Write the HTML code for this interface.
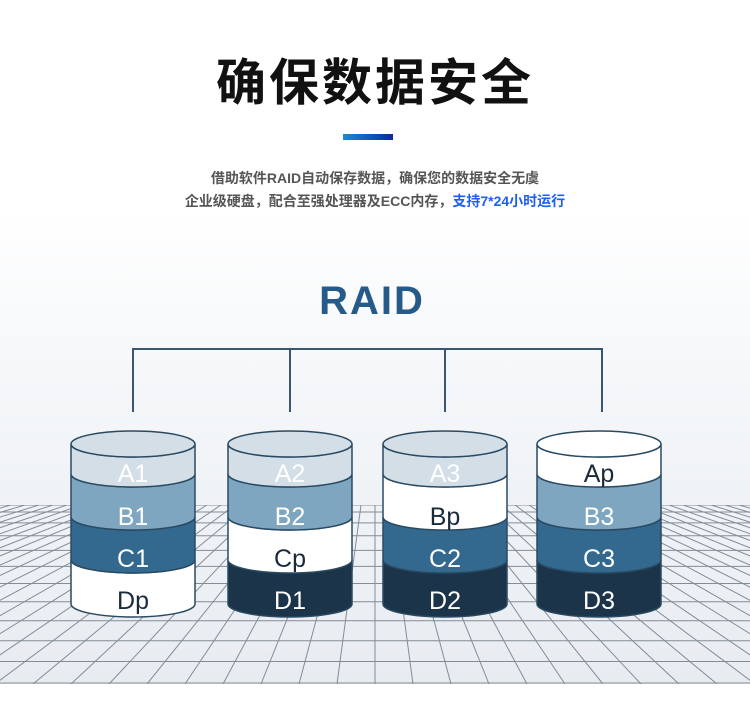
<!DOCTYPE html>
<html><head><meta charset="utf-8"><style>
body{margin:0;width:750px;height:718px;overflow:hidden;background:#fff;font-family:"Liberation Sans","Noto Sans CJK SC",sans-serif}
</style></head><body>
<svg width="750" height="718" viewBox="0 0 750 718" xmlns="http://www.w3.org/2000/svg">
<defs>
<linearGradient id="bg" x1="0" y1="0" x2="0" y2="1">
<stop offset="0" stop-color="#ffffff"/><stop offset="0.3" stop-color="#f6f8fa"/><stop offset="0.7" stop-color="#eef1f5"/><stop offset="1" stop-color="#e8ecf1"/>
</linearGradient>
<linearGradient id="bar" x1="0" x2="1"><stop offset="0" stop-color="#1a8ad6"/><stop offset="1" stop-color="#0a2a9e"/></linearGradient>
<clipPath id="gc"><rect x="0" y="505" width="750" height="179"/></clipPath>
</defs>
<rect x="0" y="210" width="750" height="474" fill="url(#bg)"/>
<g clip-path="url(#gc)" stroke="#4d5863" stroke-width="1" opacity="0.65" id="grid"></g>
<text x="375" y="100" text-anchor="middle" font-size="50" font-weight="bold" fill="#111" letter-spacing="3">确保数据安全</text>
<rect x="343" y="134" width="50" height="6" fill="url(#bar)"/>
<text x="375" y="183" text-anchor="middle" font-size="14" font-weight="bold" fill="#555">借助软件RAID自动保存数据，确保您的数据安全无虞</text>
<text x="375" y="206" text-anchor="middle" font-size="14" font-weight="bold" fill="#555">企业级硬盘，配合至强处理器及ECC内存，<tspan fill="#1e5ef0">支持7*24小时运行</tspan></text>
<text x="372" y="314" text-anchor="middle" font-size="40" font-weight="bold" fill="#265a88" letter-spacing="2">RAID</text>
<g stroke="#3a5670" stroke-width="2" fill="none">
<path d="M133 412V349H602V412M290 349V412M445 349V412"/>
</g>
<g id="cyl"></g>
</svg>
<script>
var ns="http://www.w3.org/2000/svg";
var g=document.getElementById("grid");
function ln(x1,y1,x2,y2){var l=document.createElementNS(ns,"line");l.setAttribute("x1",x1);l.setAttribute("y1",y1);l.setAttribute("x2",x2);l.setAttribute("y2",y2);g.appendChild(l);}
var hy=505;
for(var i=0;i<12;i++){var t=i/11;var y=hy+Math.pow(t,1.35)*178;ln(0,y,750,y);}
for(var k=-30;k<=30;k++){var xb=375+k*38;var xt=375+k*14;ln(xt,505,xb,684);}
var c=document.getElementById("cyl");
var cols={A:"#d3dee6",B:"#7fa6c1",C:"#33688f",D:"#1b3449",W:"#ffffff"};
var data=[[133,["A","B","C","W"],["A1","B1","C1","Dp"]],[290,["A","B","W","D"],["A2","B2","Cp","D1"]],[445,["A","W","C","D"],["A3","Bp","C2","D2"]],[599,["W","B","C","D"],["Ap","B3","C3","D3"]]];
var rx=62,ry=13,cy0=444;
var bnd=[444,474,517,560,604];
var tys=[473,516,558,600];
function el(tag,a){var e=document.createElementNS(ns,tag);for(var k in a)e.setAttribute(k,a[k]);c.appendChild(e);return e;}
data.forEach(function(d){var cx=d[0];
for(var i=3;i>=0;i--){var y0=bnd[i],y1=bnd[i+1];
el("path",{d:"M"+(cx-rx)+" "+y0+"A"+rx+" "+ry+" 0 0 0 "+(cx+rx)+" "+y0+"V"+y1+"A"+rx+" "+ry+" 0 0 1 "+(cx-rx)+" "+y1+"Z",fill:cols[d[1][i]],stroke:"#2a4a62","stroke-width":1.5});}
el("ellipse",{cx:cx,cy:cy0,rx:rx,ry:ry,fill:cols[d[1][0]],stroke:"#2a4a62","stroke-width":1.5});
for(var i=0;i<4;i++){var tc=d[1][i]=="W"?"#1b2a3a":"#ffffff";
var t=el("text",{x:cx,y:tys[i]+9,"text-anchor":"middle","font-size":25,fill:tc,"font-family":"Liberation Sans, sans-serif"});t.textContent=d[2][i];}
});
</script>
</body></html>
